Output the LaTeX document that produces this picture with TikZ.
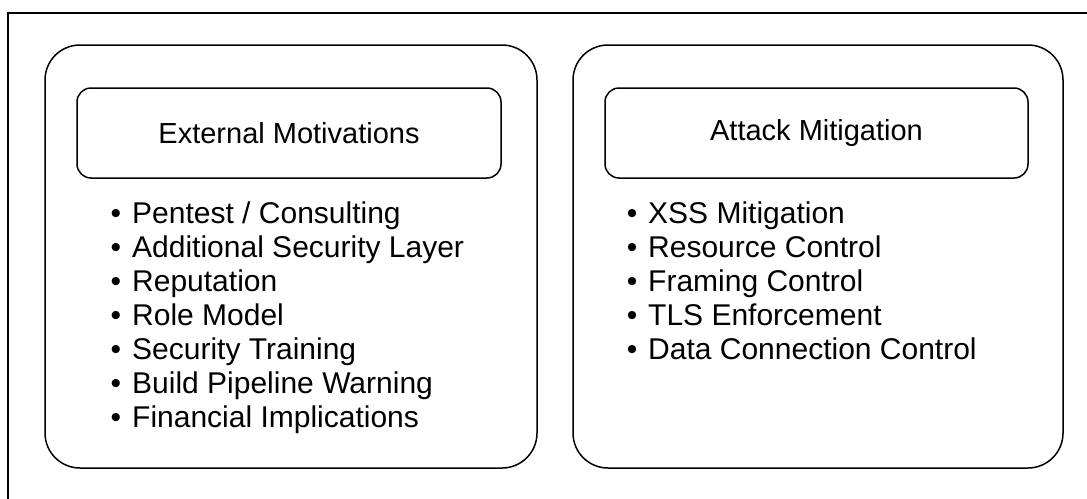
\documentclass[tikz,border=0pt]{standalone}
\usepackage{fontspec}
\setmainfont{Liberation Sans}
\begin{document}
\begin{tikzpicture}[x=1pt,y=-1pt,
  bigbox/.style={draw,line width=1.5pt,rounded corners=35pt},
  headbox/.style={draw,line width=1.5pt,rounded corners=14pt,inner sep=0pt,font=\fontsize{29}{32}\selectfont},
  item/.style={anchor=base west,inner sep=0pt,font=\fontsize{30}{34}\selectfont},
  dot/.style={anchor=base,inner sep=0pt,font=\fontsize{30}{34}\selectfont}]
\useasboundingbox (0,0) rectangle (1087,498);
\clip (0,0) rectangle (1087,498);
\draw[line width=1.5pt] (8,13) rectangle (1200,600);
% left panel
\draw[bigbox] (45,45) rectangle (537,468);
\node[headbox,minimum width=424pt,minimum height=90pt] (h1) at (289,133) {External Motivations};
\foreach \t [count=\i] in {Pentest / Consulting,Additional Security Layer,Reputation,Role Model,Security Training,Build Pipeline Warning,Financial Implications}{
  \node[dot] (ld\i) at (116,{223+34*(\i-1)}) {•};
  \node[item] (li\i) at (132,{223+34*(\i-1)}) {\t};
}
% right panel
\draw[bigbox] (573,45) rectangle (1063,468);
\node[headbox,minimum width=423pt,minimum height=90pt] (h2) at (816.5,133) {Attack Mitigation};
\foreach \t [count=\i] in {XSS Mitigation,Resource Control,Framing Control,TLS Enforcement,Data Connection Control}{
  \node[dot] (rd\i) at (632,{223+34*(\i-1)}) {•};
  \node[item] (ri\i) at (648,{223+34*(\i-1)}) {\t};
}
\end{tikzpicture}
\end{document}
